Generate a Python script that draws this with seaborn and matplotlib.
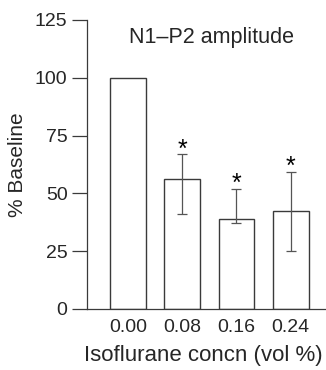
import numpy as np
import pandas as pd
import matplotlib
matplotlib.use("Agg")
import matplotlib.pyplot as plt
import seaborn as sns

# --- data ---
conc_labels = ["0.00", "0.08", "0.16", "0.24"]
amplitude = [100.0, 56.1, 39.1, 42.5]
err_low = [np.nan, 41.2, 37.1, 25.2]
err_high = [np.nan, 66.9, 51.9, 59.4]
significant = [False, True, True, True]

df = pd.DataFrame({"conc": conc_labels, "amp": amplitude})

sns.set_style("ticks")
plt.rcParams["font.family"] = ["Liberation Sans", "DejaVu Sans"]

fig = plt.figure(figsize=(3.26, 3.70), dpi=100)
ax = fig.add_axes([0.267, 0.165, 0.733, 0.781])

line_col = "#3a3a3a"
sns.barplot(data=df, x="conc", y="amp", order=conc_labels, color="white",
            edgecolor=line_col, linewidth=1.0, width=0.66, ax=ax)

pos = np.arange(len(conc_labels))
amp = np.array(amplitude)
lo = amp - np.array(err_low)
hi = np.array(err_high) - amp
ax.errorbar(pos[1:], amp[1:], yerr=[lo[1:], hi[1:]], fmt="none",
            ecolor="#555555", elinewidth=0.9, capsize=3.6, capthick=0.9)

# asterisks just above the upper error caps
for p, top, sig in zip(pos, err_high, significant):
    if sig:
        ax.annotate("*", (p, top), xytext=(0, -1.5), textcoords="offset points",
                    ha="center", va="baseline", fontsize=18, color="black")

ax.text(0.52, 0.938, "N1\u2013P2 amplitude", transform=ax.transAxes,
        ha="center", va="center", fontsize=15.5)

ax.set_ylim(0, 125)
ax.set_xlim(-0.755, 3.65)
ax.set_yticks([0, 25, 50, 75, 100, 125])
ax.set_ylabel("% Baseline", fontsize=15, labelpad=6)
ax.set_xlabel("Isoflurane concn (vol %)", fontsize=16, labelpad=7, x=0.487)

ax.tick_params(axis="y", length=11, width=0.9, color=line_col, labelsize=14, pad=3)
ax.tick_params(axis="x", length=0, labelsize=14, pad=7)
sns.despine(ax=ax)
for s in ["left", "bottom"]:
    ax.spines[s].set_color(line_col)
    ax.spines[s].set_linewidth(0.9)

fig.savefig("out.png", dpi=100)
